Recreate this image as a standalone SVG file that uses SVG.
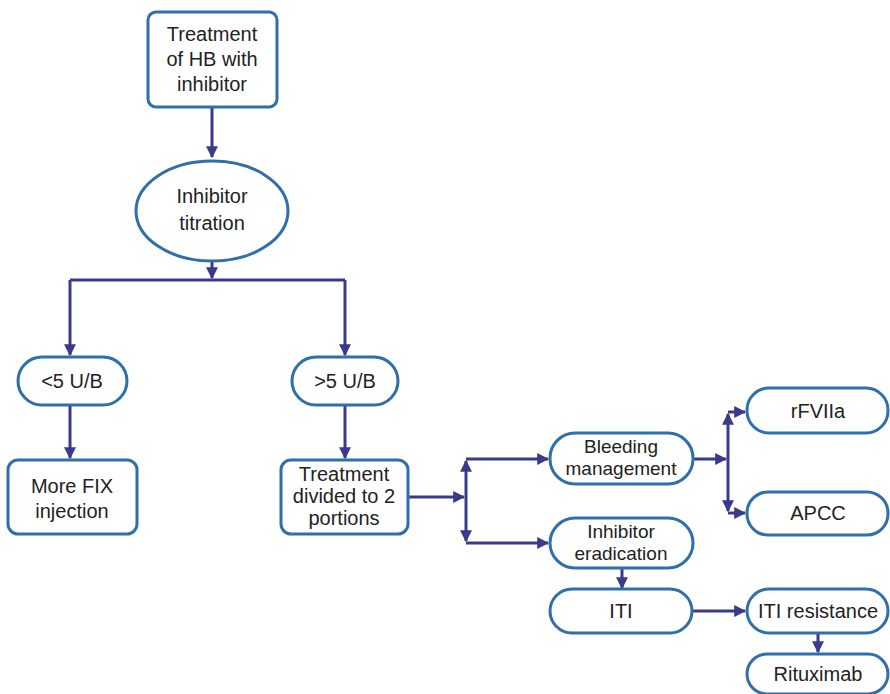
<svg xmlns="http://www.w3.org/2000/svg" width="890" height="694" viewBox="0 0 890 694">
<defs>
<style>
.n{fill:#fff;stroke:#2e6fac;stroke-width:3}
.t{font-family:"Liberation Sans",Arial,sans-serif;font-size:20px;fill:#222;text-anchor:middle}
.s{font-size:19px}
.c{fill:none;stroke:#3a3a8c;stroke-width:3}
</style>
<marker id="a" viewBox="0 0 10 10" refX="9" refY="5" markerWidth="4" markerHeight="4" orient="auto" markerUnits="strokeWidth">
<path d="M0,0L10,5L0,10z" fill="#3a3a8c"/>
</marker>
</defs>
<rect width="890" height="694" fill="#fff"/>
<g id="connectors">
<path class="c" d="M212,107V157" marker-end="url(#a)"/>
<path class="c" d="M212,262V278" marker-end="url(#a)"/>
<path class="c" d="M70,280H345"/>
<path class="c" d="M70,280V355" marker-end="url(#a)"/>
<path class="c" d="M345,280V355" marker-end="url(#a)"/>
<path class="c" d="M70,405V458" marker-end="url(#a)"/>
<path class="c" d="M345,405V458" marker-end="url(#a)"/>
<path class="c" d="M408,497H464" marker-end="url(#a)"/>
<path class="c" d="M466,497V461" marker-end="url(#a)"/>
<path class="c" d="M466,497V541" marker-end="url(#a)"/>
<path class="c" d="M466,459H548" marker-end="url(#a)"/>
<path class="c" d="M466,543H548" marker-end="url(#a)"/>
<path class="c" d="M693,459H726" marker-end="url(#a)"/>
<path class="c" d="M728,459V414" marker-end="url(#a)"/>
<path class="c" d="M728,459V511" marker-end="url(#a)"/>
<path class="c" d="M728,412H745" marker-end="url(#a)"/>
<path class="c" d="M728,513H745" marker-end="url(#a)"/>
<path class="c" d="M622,568V588" marker-end="url(#a)"/>
<path class="c" d="M692,611H745" marker-end="url(#a)"/>
<path class="c" d="M818,634V652" marker-end="url(#a)"/>
</g>
<g id="n1"><rect class="n" x="148" y="12" width="129" height="95" rx="8"/>
<text class="t" x="212" y="41">Treatment</text><text class="t" x="212" y="66">of HB with</text><text class="t" x="212" y="91">inhibitor</text></g>
<g id="n2"><ellipse class="n" cx="212" cy="211" rx="76" ry="50"/>
<text class="t" x="212" y="203">Inhibitor</text><text class="t" x="212" y="230">titration</text></g>
<g id="n3"><rect class="n" x="18" y="357" width="109" height="48" rx="24"/>
<text class="t" x="72" y="388">&lt;5 U/B</text></g>
<g id="n4"><rect class="n" x="292" y="357" width="106" height="48" rx="24"/>
<text class="t" x="345" y="388">&gt;5 U/B</text></g>
<g id="n5"><rect class="n" x="8" y="460" width="129" height="74" rx="10"/>
<text class="t" x="72" y="493">More FIX</text><text class="t" x="72" y="518">injection</text></g>
<g id="n6"><rect class="n" x="281" y="460" width="127" height="74" rx="10"/>
<text class="t" x="344" y="481">Treatment</text><text class="t" x="344" y="503">divided to 2</text><text class="t" x="344" y="525">portions</text></g>
<g id="n7"><rect class="n" x="550" y="433" width="143" height="51" rx="25"/>
<text class="t s" x="621" y="453">Bleeding</text><text class="t s" x="621" y="475">management</text></g>
<g id="n8"><rect class="n" x="550" y="518" width="143" height="50" rx="25"/>
<text class="t s" x="621" y="538">Inhibitor</text><text class="t s" x="621" y="560">eradication</text></g>
<g id="n9"><rect class="n" x="747" y="388" width="141" height="45" rx="22"/>
<text class="t" x="818" y="418">rFVIIa</text></g>
<g id="n10"><rect class="n" x="747" y="492" width="141" height="43" rx="21"/>
<text class="t" x="818" y="520">APCC</text></g>
<g id="n11"><rect class="n" x="550" y="589" width="142" height="44" rx="22"/>
<text class="t" x="621" y="618">ITI</text></g>
<g id="n12"><rect class="n" x="747" y="589" width="141" height="44" rx="22"/>
<text class="t" x="818" y="618">ITI resistance</text></g>
<g id="n13"><rect class="n" x="747" y="654" width="141" height="40" rx="20"/>
<text class="t" x="818" y="681">Rituximab</text></g>
</svg>
